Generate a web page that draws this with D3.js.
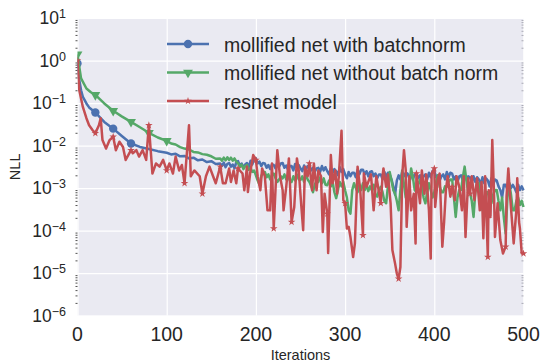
<!DOCTYPE html>
<html>
<head>
<meta charset="utf-8">
<script src="https://cdn.jsdelivr.net/npm/d3@7"></script>
<style>
  body { margin: 0; background: #fff; }
  text { font-family: "Liberation Sans", Arial, sans-serif; fill: #262626; }
</style>
</head>
<body>
<script>
// DATA: [iteration, NLL]

const batchnorm = [
  [0,0.85],[2,0.35],[4,0.2],[6,0.14],[10,0.098],[13,0.079],[20,0.06],[30,0.036],[40,0.025],
  [50,0.0166],[60,0.0112],[70,0.0093],[80,0.0083],[90,0.0074],[100,0.0068],[105,0.0062],[110,0.0064],
  [115,0.0056],[120,0.0057],[125,0.005],[130,0.0052],[135,0.0045],[140,0.0047],[145,0.0041],
  [150,0.0043],[155,0.0037],[160,0.0038],[162,0.0033],[164,0.004],[166,0.0031],[168,0.0037],
  [170,0.0039],[172,0.0032],[174,0.0036],[176,0.0029],[178,0.0041],[180,0.0043],[182,0.0034],
  [184,0.0038],[186,0.003],[188,0.0036],[190,0.0039],[192,0.0031],[194,0.0044],[196,0.0036],
  [198,0.0048],[200,0.005],[202,0.0038],[204,0.0042],[206,0.0033],[208,0.0039],[210,0.0038],
  [212,0.003],[214,0.0035],[216,0.0028],[218,0.0036],[220,0.0035],[222,0.0029],[224,0.004],
  [226,0.0032],[228,0.0038],[230,0.0039],[232,0.003],[234,0.0034],[236,0.0027],[238,0.0033],
  [240,0.0033],[242,0.0026],[244,0.0037],[246,0.003],[248,0.0035],[250,0.0029],[252,0.0025],
  [254,0.0034],[256,0.0027],[258,0.0033],[260,0.0033],[262,0.0026],[264,0.003],[266,0.0024],
  [268,0.0029],[270,0.003],[272,0.0024],[274,0.0033],[276,0.0026],[278,0.0031],[280,0.0025],
  [282,0.0021],[284,0.0029],[286,0.0023],[288,0.0028],[290,0.0025],[292,0.002],[294,0.0031],
  [296,0.0024],[298,0.0028],[300,0.0021],[302,0.0017],[304,0.0024],[306,0.0019],[308,0.0023],
  [310,0.0023],[312,0.0018],[314,0.0027],[316,0.0021],[318,0.0027],[320,0.0027],[322,0.0021],
  [324,0.0025],[326,0.0019],[328,0.0024],[330,0.0025],[332,0.0019],[334,0.0022],[336,0.0017],
  [338,0.0021],[340,0.0021],[342,0.0016],[344,0.0024],[346,0.0018],[348,0.0023],[350,0.0021],
  [352,0.0016],[354,0.0011],[356,0.0007],[358,0.0015],[360,0.002],[362,0.0016],[364,0.0024],
  [366,0.0019],[368,0.0023],[370,0.0022],[372,0.0017],[374,0.0021],[376,0.0016],[378,0.0021],
  [380,0.0022],[382,0.0017],[384,0.002],[386,0.0015],[388,0.0019],[390,0.0021],[392,0.0016],
  [394,0.0023],[396,0.0018],[398,0.0025],[400,0.0026],[402,0.0018],[404,0.002],[406,0.0015],
  [408,0.0019],[410,0.0021],[412,0.0016],[414,0.0024],[416,0.0018],[418,0.0023],[420,0.0022],
  [422,0.0016],[424,0.0019],[426,0.0014],[428,0.0019],[430,0.002],[432,0.0015],[434,0.0021],
  [436,0.0016],[438,0.0019],[440,0.0018],[442,0.0014],[444,0.0019],[446,0.0014],[448,0.0018],
  [450,0.0016],[452,0.0012],[454,0.0018],[456,0.0013],[458,0.0017],[460,0.0015],[462,0.0011],
  [464,0.0017],[466,0.0012],[468,0.0016],[470,0.0015],[472,0.0011],[474,0.0009],[476,0.0006],
  [478,0.0012],[480,0.0012],[482,0.0009],[484,0.0013],[486,0.001],[488,0.0012],[490,0.001],
  [492,0.0008],[494,0.0012],[496,0.0009],[498,0.0011],[500,0.00089]
];

const noBatchnorm = [
  [0,1.4],[2,0.71],[4,0.38],[10,0.22],[15,0.18],[20,0.155],[30,0.098],[40,0.066],[50,0.048],
  [60,0.036],[70,0.027],[80,0.02],[90,0.0155],[100,0.0129],[105,0.0112],[110,0.0106],
  [115,0.0092],[120,0.0085],[125,0.0081],[130,0.0071],[135,0.0069],[140,0.0063],[145,0.0061],
  [150,0.0056],[155,0.0049],[160,0.005],[162,0.0044],[164,0.0052],[166,0.0045],[168,0.0053],
  [170,0.0046],[172,0.0052],[174,0.0044],[176,0.005],[178,0.0042],[180,0.0038],[182,0.0032],
  [184,0.0036],[186,0.0028],[188,0.0033],[190,0.0035],[192,0.0027],[194,0.003],[196,0.0024],
  [198,0.0026],[200,0.002],[202,0.0015],[204,0.0012],[206,0.0019],[208,0.0024],[210,0.0024],
  [212,0.0018],[214,0.0021],[216,0.0016],[218,0.002],[220,0.0022],[222,0.0017],[224,0.0014],
  [226,0.0016],[228,0.0019],[230,0.0017],[232,0.0021],[234,0.0016],[236,0.002],[238,0.0015],
  [240,0.0014],[242,0.0019],[244,0.0015],[246,0.0021],[248,0.0016],[250,0.00155],[252,0.0019],
  [254,0.0014],[256,0.0021],[258,0.0016],[260,0.0014],[262,0.0011],[264,0.0008],[266,0.0012],
  [268,0.0015],[270,0.0014],[272,0.0018],[274,0.0013],[276,0.0017],[278,0.0012],[280,0.00117],
  [282,0.0015],[284,0.0011],[286,0.0014],[288,0.0008],[290,0.00058],[292,0.0009],[294,0.0014],
  [296,0.0011],[298,0.0014],[300,0.00089],[302,0.0006],[304,0.0003],[306,0.00025],[308,0.0009],
  [310,0.0013],[312,0.001],[314,0.0008],[316,0.0012],[318,0.0009],[320,0.0013],[322,0.0009],
  [324,0.0012],[326,0.00085],[328,0.0011],[330,0.00089],[332,0.0012],[334,0.0007],[336,0.00063],
  [338,0.0009],[340,0.00107],[342,0.0008],[344,0.0005],[346,0.00044],[348,0.0011],[350,0.0024],
  [352,0.0015],[354,0.0009],[356,0.00075],[358,0.0005],[360,0.0003],[362,0.0009],[364,0.0026],
  [366,0.0012],[368,0.0006],[370,0.00052],[372,0.0011],[374,0.0029],[376,0.0018],[378,0.0009],
  [380,0.0008],[382,0.0012],[384,0.0016],[386,0.0011],[388,0.0006],[390,0.00044],[392,0.0008],
  [394,0.0013],[396,0.0009],[398,0.0006],[400,0.0008],[402,0.0014],[404,0.002],[406,0.0011],
  [408,0.0008],[410,0.0008],[412,0.0011],[414,0.00107],[416,0.0014],[418,0.0016],[420,0.0016],
  [422,0.0006],[424,0.00021],[426,0.0006],[428,0.0009],[430,0.0009],[432,0.0018],[434,0.0032],
  [436,0.0015],[438,0.0008],[440,0.0008],[442,0.0005],[444,0.00021],[446,0.0008],[448,0.0013],
  [450,0.0013],[452,0.0006],[454,0.0003],[456,0.0006],[458,0.0008],[460,0.0008],[462,0.0005],
  [464,0.00044],[466,0.0007],[468,0.0009],[470,0.0009],[472,0.0005],[474,0.0003],[476,0.0006],
  [478,0.0002],[480,0.000085],[482,0.0006],[484,0.0013],[486,0.0007],[488,0.0003],[490,0.0003],
  [492,0.0005],[494,0.0006],[496,0.0004],[498,0.0005],[500,0.00036]
];

const resnet = [
  [0,1.0],[2,0.2],[6,0.081],[10,0.044],[13,0.03],[17,0.023],[20,0.0195],[24,0.03],[26,0.044],
  [28,0.0135],[32,0.0085],[36,0.0135],[40,0.0162],[43,0.0078],[47,0.0123],[51,0.0093],[54,0.0046],
  [60,0.0078],[62,0.0066],[66,0.0078],[69,0.0055],[73,0.0078],[77,0.0046],[80,0.03],[84,0.0022],
  [88,0.0038],[92,0.0032],[96,0.0046],[100,0.0026],[103,0.0038],[107,0.0022],[110,0.0055],
  [114,0.0026],[117,0.0035],[120,0.0013],[125,0.03],[127,0.0019],[131,0.0026],[137,0.0019],
  [140,0.00074],[144,0.0019],[148,0.0032],[152,0.0019],[155,0.0013],[160,0.0032],[163,0.0013],
  [166,0.0013],[170,0.0029],[172,0.0014],[175,0.0026],[178,0.0013],[180,0.0029],[185,0.0022],
  [187,0.00089],[190,0.0032],[191,0.00081],[194,0.0026],[197,0.006],[200,0.0046],[202,0.0019],
  [205,0.00089],[207,0.0029],[210,0.0019],[213,0.0003],[216,0.0003],[218,0.0038],[220,0.000112],
  [224,0.0078],[227,0.0019],[230,0.00089],[231,0.0003],[234,0.00107],[237,0.005],[240,0.00016],
  [243,0.00036],[246,0.005],[248,0.0026],[251,0.00036],[253,0.000102],[255,0.0032],[258,0.0019],
  [260,0.0038],[263,0.00089],[265,0.0038],[268,0.00089],[270,0.0026],[273,0.0019],[275,0.000093],
  [277,0.00074],[280,0.00025],[281,0.00003],[284,0.006],[286,0.0013],[289,0.0026],[291,0.00074],
  [293,0.0019],[296,0.0224],[298,0.00052],[300,0.00044],[302,0.000112],[304,0.000123],
  [306,0.000071],[309,0.000024],[311,0.00005],[314,0.0032],[317,0.00089],[320,0.000078],
  [321,0.0022],[324,0.00107],[329,0.0021],[332,0.0003],[335,0.0019],[340,0.00044],[342,0.0019],
  [343,0.0029],[346,0.00107],[348,0.0021],[351,0.00044],[353,0.000035],[356,0.000017],
  [358,0.0000098],[360,0.0000074],[362,0.000014],[364,0.0019],[366,0.0078],[368,0.0026],
  [369,0.000123],[372,0.0019],[374,0.0003],[377,0.00074],[379,0.00005],[380,0.0022],[384,0.00044],
  [386,0.0026],[389,0.00074],[391,0.0021],[394,0.0003],[396,0.000022],[397,0.0022],[400,0.0029],
  [401,0.00036],[404,0.0017],[406,0.0022],[409,0.000042],[411,0.00016],[413,0.00089],[415,0.0019],
  [418,0.00063],[420,0.00107],[423,0.00052],[425,0.0019],[428,0.00107],[431,0.0003],[433,0.0019],
  [435,0.000071],[438,0.0017],[440,0.00074],[442,0.0019],[445,0.00052],[448,0.0017],[451,0.0003],
  [453,0.0014],[455,0.000066],[457,0.0019],[460,0.000024],[461,0.00089],[463,0.00021],
  [465,0.0135],[467,0.00063],[468,0.000071],[471,0.00044],[474,0.00006],[477,0.000029],
  [480,0.000042],[481,0.00063],[483,0.0029],[485,0.00063],[487,0.00018],[489,0.00005],
  [492,0.0003],[493,0.0017],[495,0.00016],[496,0.000112],[498,0.000029],[500,0.000029]
];

const seriesNames = ["mollified net with batchnorm", "mollified net without batch norm", "resnet model"];
const xTicks = [0, 100, 200, 300, 400, 500];
const yExponents = [1, 0, -1, -2, -3, -4, -5, -6];

// CHART

const W = 543, H = 364;
const padL = 77.5, padR = 523.5, padT = 18, padB = 315.7;
const colors = ["#4C72B0", "#55A868", "#C44E52"];
const symbols = [d3.symbolCircle, d3.symbolTriangle, d3.symbolStar];
const symSize = [55, 42, 18];
const symRot = [0, 180, 0];
// markers every 20 iterations; later blue/green ones are buried in the noisy band
const markLast = [60, 100, 500];

const svg = d3.select("body").append("svg")
  .attr("width", W)
  .attr("height", H);

const x = d3.scaleLinear().domain([0, 500]).range([padL, padR]);
const y = d3.scaleLog().domain([1e-6, 10]).range([padB, padT]);

svg.append("rect")
  .attr("x", padL).attr("y", padT)
  .attr("width", padR - padL).attr("height", padB - padT)
  .attr("fill", "#EAEAF2");

svg.append("clipPath").attr("id", "clip")
  .append("rect")
  .attr("x", padL).attr("y", padT - 4)
  .attr("width", padR - padL + 4).attr("height", padB - padT + 4);

// grid
const xGrid = d3.axisBottom(x).tickValues(xTicks).tickSize(-(padB - padT)).tickFormat("");
svg.append("g")
  .attr("transform", `translate(0,${padB})`)
  .call(xGrid)
  .call(g => g.select(".domain").remove())
  .call(g => g.selectAll("line").attr("stroke", "#fff").attr("stroke-width", 1.2));

const yGrid = d3.axisLeft(y).tickValues(yExponents.map(e => Math.pow(10, e))).tickSize(-(padR - padL)).tickFormat("");
svg.append("g")
  .attr("transform", `translate(${padL},0)`)
  .call(yGrid)
  .call(g => g.select(".domain").remove())
  .call(g => g.selectAll("line").attr("stroke", "#fff").attr("stroke-width", 1.2));

// minor log ticks on the left and right edges
const minor = [];
yExponents.slice(1).forEach(e => { for (let k = 2; k < 10; k++) minor.push(k * Math.pow(10, e)); });
svg.append("g")
  .attr("transform", `translate(${padL},0)`)
  .call(d3.axisLeft(y).tickValues(minor).tickSize(2).tickFormat(""))
  .call(g => g.select(".domain").remove())
  .call(g => g.selectAll("line").attr("stroke", "#262626").attr("stroke-width", 0.8));
svg.append("g")
  .attr("transform", `translate(${padR},0)`)
  .call(d3.axisLeft(y).tickValues(minor).tickSize(2).tickFormat(""))
  .call(g => g.select(".domain").remove())
  .call(g => g.selectAll("line").attr("stroke", "#9a9aa6").attr("stroke-width", 0.8));

// lines
const line = d3.line().x(d => x(d[0])).y(d => y(d[1]));
const plot = svg.append("g").attr("clip-path", "url(#clip)");

[batchnorm, noBatchnorm, resnet].forEach((data, i) => {
  plot.append("path")
    .datum(data)
    .attr("d", line)
    .attr("fill", "none")
    .attr("stroke", colors[i])
    .attr("stroke-width", 2.5)
    .attr("stroke-linejoin", "round");

  plot.selectAll(".m" + i)
    .data(data.filter(d => d[0] % 20 === 0 && d[0] <= markLast[i]))
    .enter()
    .append("path")
    .attr("class", "m" + i)
    .attr("d", d3.symbol().type(symbols[i]).size(symSize[i]))
    .attr("transform", d => `translate(${x(d[0])},${y(d[1])}) rotate(${symRot[i]})`)
    .attr("fill", colors[i]);
});

// x tick labels
svg.selectAll(".xt")
  .data(xTicks)
  .enter()
  .append("text")
  .attr("x", d => x(d))
  .attr("y", 341)
  .attr("text-anchor", "middle")
  .style("font-size", "19.5px")
  .text(d => d);

// y tick labels 10^n
const yt = svg.selectAll(".yt")
  .data(yExponents)
  .enter()
  .append("text")
  .attr("x", 66)
  .attr("y", d => y(Math.pow(10, d)) + 6)
  .attr("text-anchor", "end");
yt.append("tspan").style("font-size", "17.5px").text("10");
yt.append("tspan").attr("dy", -6).style("font-size", "12.5px")
  .text(d => d < 0 ? "\u2212" + (-d) : d);

// axis titles
svg.append("text")
  .attr("x", x(250))
  .attr("y", 360)
  .attr("text-anchor", "middle")
  .style("font-size", "14.5px")
  .text("Iterations");

svg.append("text")
  .attr("transform", `translate(20,${(padT + padB) / 2}) rotate(-90)`)
  .attr("text-anchor", "middle")
  .style("font-size", "14.5px")
  .text("NLL");

// legend
const legend = svg.append("g");
seriesNames.forEach((name, i) => {
  const ly = 44 + i * 28.5;
  legend.append("line")
    .attr("x1", 167).attr("x2", 209)
    .attr("y1", ly).attr("y2", ly)
    .attr("stroke", colors[i]).attr("stroke-width", 2.5);
  legend.append("path")
    .attr("d", d3.symbol().type(symbols[i]).size(symSize[i]))
    .attr("transform", `translate(188,${ly}) rotate(${symRot[i]})`)
    .attr("fill", colors[i]);
  legend.append("text")
    .attr("x", 224)
    .attr("y", ly + 7.5)
    .style("font-size", "19.5px")
    .text(name);
});
</script>
</body>
</html>
